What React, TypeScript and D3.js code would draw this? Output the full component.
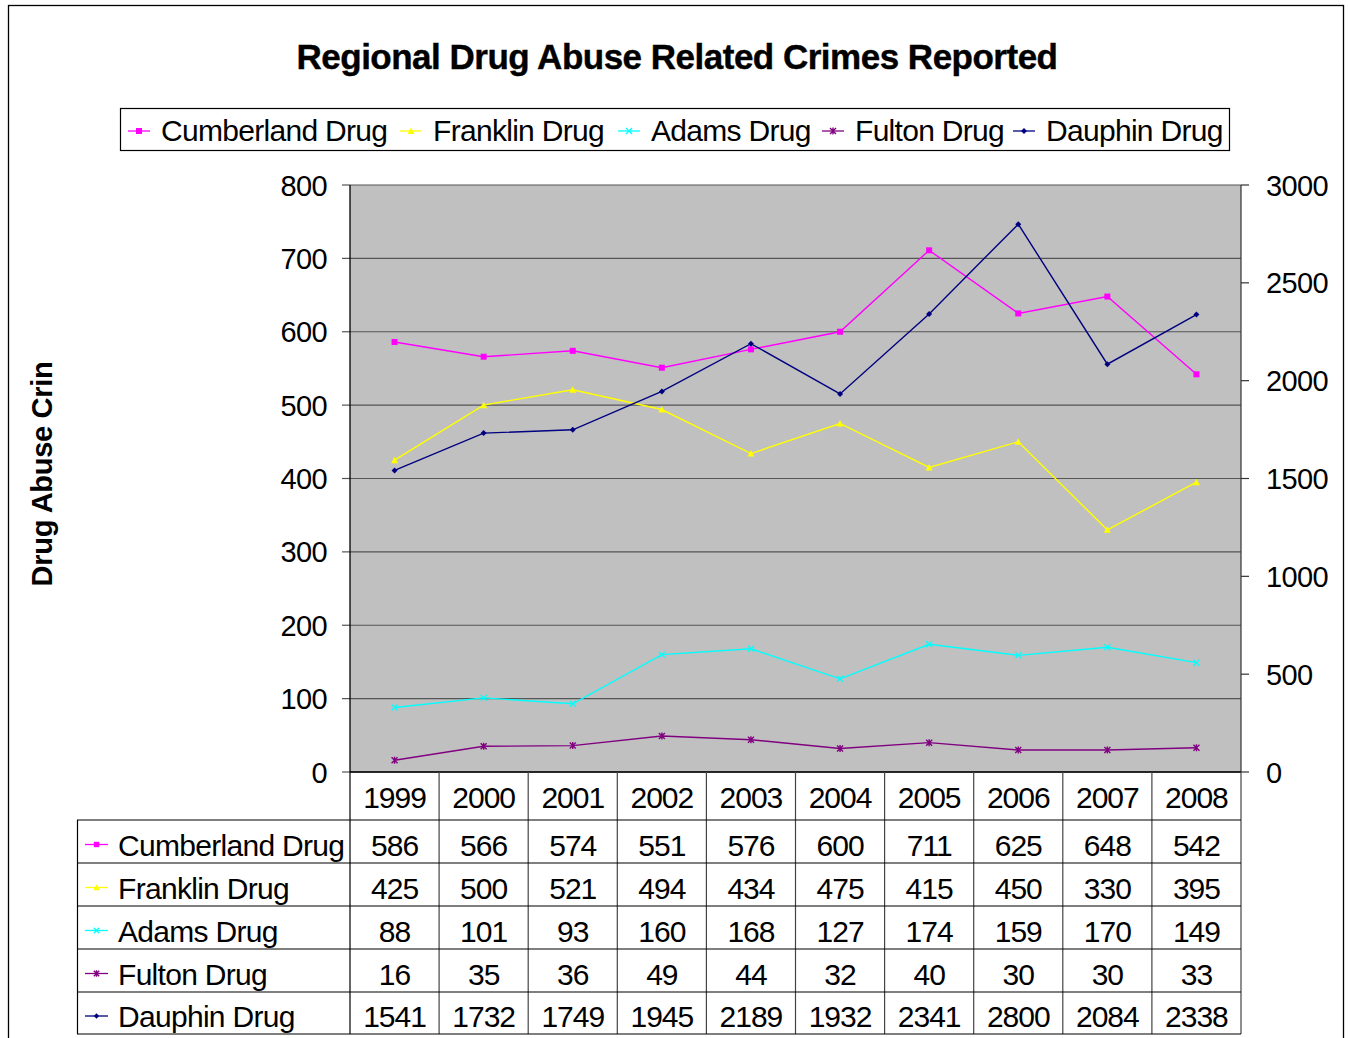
import React from "react";
import * as d3 from "d3";

const years = ["1999","2000","2001","2002","2003","2004","2005","2006","2007","2008"];
const cumberland = [586,566,574,551,576,600,711,625,648,542];
const franklin = [425,500,521,494,434,475,415,450,330,395];
const adams = [88,101,93,160,168,127,174,159,170,149];
const fulton = [16,35,36,49,44,32,40,30,30,33];
const dauphin = [1541,1732,1749,1945,2189,1932,2341,2800,2084,2338];
const leftTicks = [0,100,200,300,400,500,600,700,800];
const rightTicks = [0,500,1000,1500,2000,2500,3000];

type Series = { name: string; values: number[]; color: string; marker: string; axis: "left" | "right" };
const series: Series[] = [
  { name: "Cumberland Drug", values: cumberland, color: "#FF00FF", marker: "square", axis: "left" },
  { name: "Franklin Drug", values: franklin, color: "#FFFF00", marker: "triangle", axis: "left" },
  { name: "Adams Drug", values: adams, color: "#00FFFF", marker: "x", axis: "left" },
  { name: "Fulton Drug", values: fulton, color: "#800080", marker: "star", axis: "left" },
  { name: "Dauphin Drug", values: dauphin, color: "#000080", marker: "diamond", axis: "right" },
];

const FONT = "'Liberation Sans', Arial, sans-serif";
const PL = 350, PR = 1241, PT = 185, PB = 772;

function Marker({ kind, x, y, color, s = 1 }: { kind: string; x: number; y: number; color: string; s?: number }) {
  const r = 3 * s;
  if (kind === "square") return <rect x={x - r} y={y - r} width={2 * r} height={2 * r} fill={color} />;
  if (kind === "triangle") return <path d={`M${x},${y - r - 0.5}L${x + r + 0.5},${y + r}L${x - r - 0.5},${y + r}Z`} fill={color} />;
  if (kind === "diamond") return <path d={`M${x},${y - r}L${x + r},${y}L${x},${y + r}L${x - r},${y}Z`} fill={color} />;
  if (kind === "x") return <path d={`M${x - r},${y - r}L${x + r},${y + r}M${x - r},${y + r}L${x + r},${y - r}`} stroke={color} strokeWidth={1.3} />;
  return <path d={`M${x - r},${y - r}L${x + r},${y + r}M${x - r},${y + r}L${x + r},${y - r}M${x},${y - r - 0.5}L${x},${y + r + 0.5}`} stroke={color} strokeWidth={1.4} />;
}

export default function App() {
  const x = d3.scaleBand<string>().domain(years).range([PL, PR]);
  const yL = d3.scaleLinear().domain([0, 800]).range([PB, PT]);
  const yR = d3.scaleLinear().domain([0, 3000]).range([PB, PT]);
  const cx = (y: string) => (x(y) as number) + x.bandwidth() / 2;
  const rowTops = [820, 863, 906, 949, 992, 1034];
  const legendPos = [128, 400, 618, 822, 1013];

  return (
    <div style={{ position: "fixed", left: 0, top: 0 }}>
      <svg width={1350} height={1038} style={{ display: "block", background: "#fff" }} fontFamily={FONT}>
        <rect x={8.5} y={5.5} width={1335} height={1050} fill="#fff" stroke="#000" strokeWidth={1.3} />
        <text x={677} y={69} textAnchor="middle" fontSize={35} fontWeight="bold" letterSpacing={-0.5} stroke="#000" strokeWidth={0.4}>Regional Drug Abuse Related Crimes Reported</text>

        {/* legend */}
        <rect x={120.5} y={108.5} width={1109} height={42} fill="#fff" stroke="#000" strokeWidth={1.2} />
        {series.map((s, i) => (
          <g key={s.name}>
            <line x1={legendPos[i]} x2={legendPos[i] + 22} y1={131} y2={131} stroke={s.color} strokeWidth={1.3} />
            <Marker kind={s.marker} x={legendPos[i] + 11} y={131} color={s.color} />
            <text x={legendPos[i] + 33} y={141} fontSize={30} letterSpacing={-0.7}>{s.name}</text>
          </g>
        ))}

        {/* plot area */}
        <rect x={PL} y={PT} width={PR - PL} height={PB - PT} fill="#C0C0C0" />
        {leftTicks.map(t => (
          <g key={t}>
            <line x1={PL} x2={PR} y1={yL(t)} y2={yL(t)} stroke="#555" strokeWidth={1.2} />
            <line x1={PL - 8} x2={PL} y1={yL(t)} y2={yL(t)} stroke="#555" strokeWidth={1.2} />
            <text x={327} y={yL(t) + 10.5} textAnchor="end" fontSize={29} letterSpacing={-0.6}>{t}</text>
          </g>
        ))}
        {rightTicks.map(t => (
          <g key={t}>
            <line x1={PR} x2={PR + 8} y1={yR(t)} y2={yR(t)} stroke="#333" strokeWidth={1.2} />
            <text x={1266} y={yR(t) + 10.5} fontSize={29} letterSpacing={-0.6}>{t}</text>
          </g>
        ))}
        <line x1={PL} x2={PL} y1={PT} y2={PB} stroke="#000" strokeWidth={1.3} />
        <line x1={PR} x2={PR} y1={PT} y2={PB} stroke="#333" strokeWidth={1.2} />
        <line x1={PL} x2={PR} y1={PB} y2={PB} stroke="#000" strokeWidth={1.5} />

        <text transform={`translate(52,474) rotate(-90)`} textAnchor="middle" fontSize={29} fontWeight="bold" letterSpacing={-0.3}>Drug Abuse Crin</text>

        {/* series */}
        {series.map(s => {
          const ys = s.axis === "left" ? yL : yR;
          const line = d3.line<number>().x((_, i) => cx(years[i])).y(v => ys(v));
          return (
            <g key={s.name}>
              <path d={line(s.values) || ""} fill="none" stroke={s.color} strokeWidth={1.4} />
              {s.values.map((v, i) => <Marker key={i} kind={s.marker} x={cx(years[i])} y={ys(v)} color={s.color} />)}
            </g>
          );
        })}

        {/* data table */}
        {years.map(yr => (
          <text key={yr} x={cx(yr)} y={808} textAnchor="middle" fontSize={30} letterSpacing={-1}>{yr}</text>
        ))}
        {[...years.map(y => x(y) as number), PR].map((xx, i) => (
          <line key={i} x1={xx} x2={xx} y1={PB} y2={1034} stroke={i === 0 ? "#000" : "#444"} strokeWidth={1.2} />
        ))}
        <line x1={77.5} x2={77.5} y1={820} y2={1034} stroke="#000" strokeWidth={1.2} />
        {rowTops.map((ry, i) => (
          <line key={i} x1={77} x2={PR} y1={ry} y2={ry} stroke="#000" strokeWidth={1.2} />
        ))}
        {series.map((s, r) => {
          const mid = (rowTops[r] + rowTops[r + 1]) / 2;
          return (
            <g key={s.name}>
              <line x1={85} x2={108} y1={mid + 3} y2={mid + 3} stroke={s.color} strokeWidth={1.3} />
              <Marker kind={s.marker} x={96.5} y={mid + 3} color={s.color} s={0.9} />
              <text x={118} y={mid + 14} fontSize={30} letterSpacing={-0.7}>{s.name}</text>
              {s.values.map((v, i) => (
                <text key={i} x={cx(years[i])} y={mid + 14} textAnchor="middle" fontSize={30} letterSpacing={-1}>{v}</text>
              ))}
            </g>
          );
        })}
      </svg>
    </div>
  );
}
